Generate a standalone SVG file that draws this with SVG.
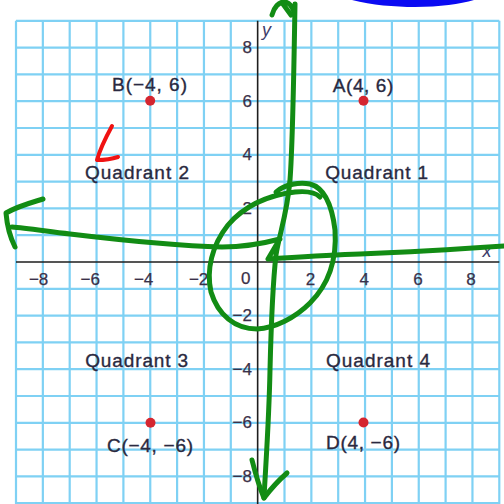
<svg xmlns="http://www.w3.org/2000/svg" width="504" height="504" viewBox="0 0 504 504">
<style>
.grid{fill:none;stroke:#7fd1f4;stroke-width:2.2}
.axis{fill:none;stroke:#1e1e1e;stroke-width:1.6}
.lbl{font-family:"Liberation Sans",Arial,sans-serif;font-size:19px;fill:#2a2940;stroke:#2a2940;stroke-width:0.35}
.tick{font-family:"Liberation Sans",Arial,sans-serif;font-size:17px;fill:#3a3048;stroke:#3a3048;stroke-width:0.25}
.var{font-family:"Liberation Sans",Arial,sans-serif;font-size:18px;font-style:italic;fill:#3c3c6a}
.dot{fill:#d42630}
.ink{fill:none;stroke:#128c14;stroke-width:5;stroke-linecap:round;stroke-linejoin:round}
</style>
<rect width="504" height="504" fill="#ffffff"/>
<g id="grid">
<path class="grid" d="M16,20.8V504M42.85,20.8V504M69.7,20.8V504M96.55,20.8V504M123.4,20.8V504M150.25,20.8V504M177.1,20.8V504M203.95,20.8V504M230.8,20.8V504M284.5,20.8V504M311.35,20.8V504M338.2,20.8V504M365.05,20.8V504M391.9,20.8V504M418.75,20.8V504M445.6,20.8V504M472.45,20.8V504M499.3,20.8V504"/>
<path class="grid" d="M16,20.8H499.3M16,47.6H499.3M16,74.4H499.3M16,101.2H499.3M16,128H499.3M16,154.8H499.3M16,181.6H499.3M16,208.4H499.3M16,235.2H499.3M16,288.8H499.3M16,315.6H499.3M16,342.4H499.3M16,369.2H499.3M16,396H499.3M16,422.8H499.3M16,449.6H499.3M16,476.4H499.3M16,503.2H499.3"/>
</g>
<g id="axes">
<path class="axis" d="M257.65,20.8V504M16,262H499.3"/>
<text class="var" x="262" y="36">y</text>
<text class="var" x="487" y="257" text-anchor="middle">x</text>
</g>
<g id="x-ticks" class="tick">
<text x="48.3" y="285" text-anchor="end">−8</text>
<text x="100" y="285" text-anchor="end">−6</text>
<text x="153.3" y="285" text-anchor="end">−4</text>
<text x="208.3" y="285" text-anchor="end">−2</text>
<text x="245.8" y="284" text-anchor="middle">0</text>
<text x="310.5" y="285" text-anchor="middle">2</text>
<text x="364.2" y="285" text-anchor="middle">4</text>
<text x="418" y="285" text-anchor="middle">6</text>
<text x="471" y="285" text-anchor="middle">8</text>
</g>
<g id="y-ticks" class="tick">
<text x="252" y="53.1" text-anchor="end">8</text>
<text x="252" y="106.7" text-anchor="end">6</text>
<text x="252" y="160.3" text-anchor="end">4</text>
<text x="252" y="213.9" text-anchor="end">2</text>
<text x="252" y="321.1" text-anchor="end">−2</text>
<text x="252" y="374.7" text-anchor="end">−4</text>
<text x="252" y="428.3" text-anchor="end">−6</text>
<text x="252" y="481.9" text-anchor="end">−8</text>
</g>
<g id="point-A">
<circle class="dot" cx="363.5" cy="100.8" r="5"/>
<text class="lbl" x="363" y="92" text-anchor="middle" textLength="60.6" lengthAdjust="spacing">A(4, 6)</text>
</g>
<g id="point-B">
<circle class="dot" cx="150.2" cy="100.8" r="5"/>
<text class="lbl" x="149.5" y="91" text-anchor="middle" textLength="75" lengthAdjust="spacing">B(−4, 6)</text>
</g>
<g id="point-C">
<circle class="dot" cx="150.5" cy="422.7" r="5"/>
<text class="lbl" x="150" y="452" text-anchor="middle" textLength="86" lengthAdjust="spacing">C(−4, −6)</text>
</g>
<g id="point-D">
<circle class="dot" cx="363.5" cy="422.5" r="5"/>
<text class="lbl" x="363" y="448.5" text-anchor="middle" textLength="74" lengthAdjust="spacing">D(4, −6)</text>
</g>
<g id="quadrant-1"><text class="lbl" x="376.7" y="178.5" text-anchor="middle" textLength="103" lengthAdjust="spacing">Quadrant 1</text></g>
<g id="quadrant-2"><text class="lbl" x="137" y="178.5" text-anchor="middle" textLength="104" lengthAdjust="spacing">Quadrant 2</text></g>
<g id="quadrant-3"><text class="lbl" x="136.7" y="367" text-anchor="middle" textLength="103" lengthAdjust="spacing">Quadrant 3</text></g>
<g id="quadrant-4"><text class="lbl" x="378" y="366.7" text-anchor="middle" textLength="104" lengthAdjust="spacing">Quadrant 4</text></g>
<g id="annotations">
<path d="M352,0 C372,5 394,7 415,7 C440,7 460,4 474,0 Z" fill="#0a0af2"/>
<path d="M112,126 C106,137 100,149 97,160 C104,160 112,159 118,157" fill="none" stroke="#f01212" stroke-width="4" stroke-linecap="round" stroke-linejoin="round"/>
<path class="ink" d="M272,15 C274,7 279,2 284,2 C289,2 292,6 294,12"/>
<path class="ink" d="M283,4 L291,15"/>
<path class="ink" d="M295,4 C294,60 293,140 290,180 C287,215 279,235 276,255 C272,290 271,330 270,370 C269,420 266,460 264,498"/>
<path class="ink" d="M252,460 C255,472 259,486 264,498 C270,490 279,480 287,473"/>
<path class="ink" d="M280,239 C265,243 245,247 222,247 C180,246 120,240 70,234 C45,231 25,228 12,227"/>
<path class="ink" d="M43,199 C30,203 18,206 6,213 C7,225 10,237 15,247"/>
<path class="ink" d="M278,242 L268,259 C300,257 330,255 360,254 C410,252 460,249 504,246"/>
<path class="ink" d="M276,192 C285,184 300,182 310,184 C325,188 332,205 335,230 C337,260 328,285 310,303 C295,318 275,328 257,329 C235,329 218,315 211,292 C206,270 212,245 228,225 C245,205 270,195 295,192 C305,191 315,192 320,197"/>
</g>
</svg>
